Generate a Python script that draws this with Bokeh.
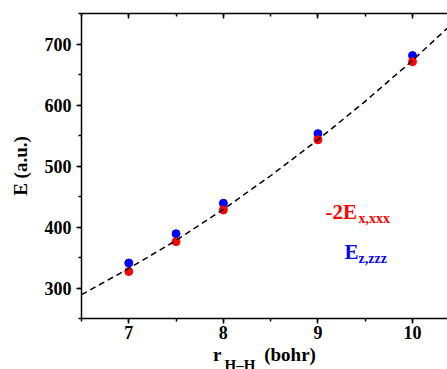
from bokeh.plotting import figure
from bokeh.models import Range1d, LinearAxis, SingleIntervalTicker, Label, Title
from bokeh.embed import file_html
from bokeh.resources import INLINE

# data
r_hh = [7.0, 7.5, 8.0, 9.0, 10.0]
e_xxx = [327, 376, 428, 543, 671]      # -2E_x,xxx (red)
e_zzz = [341, 389, 439, 553, 681]      # E_z,zzz (blue)
fit_x = [6.5, 7.0, 7.5, 8.0, 8.5, 9.0, 9.5, 10.0, 10.5]
fit_y = [289, 332, 378, 429, 484, 543, 606, 673, 745]

FONT = "Liberation Serif"
NB = "\u00a0"

p = figure(width=447, height=369, output_backend="svg", toolbar_location=None,
           x_range=Range1d(6.5, 10.37), y_range=Range1d(250, 750),
           min_border_left=81, min_border_right=0, min_border_top=13, min_border_bottom=51)
p.outline_line_color = None
p.xgrid.visible = False
p.ygrid.visible = False
p.background_fill_color = "white"
p.border_fill_color = "white"

p.xaxis.ticker = SingleIntervalTicker(interval=1, num_minor_ticks=2)
p.yaxis.ticker = SingleIntervalTicker(interval=100, num_minor_ticks=2)

for ax in (p.xaxis[0], p.yaxis[0]):
    ax.axis_line_width = 1.5
    ax.major_tick_line_width = 1.5
    ax.minor_tick_line_width = 1.5
    ax.major_tick_out = 5
    ax.major_tick_in = 0
    ax.minor_tick_out = 3
    ax.minor_tick_in = 0
    ax.major_label_text_font = FONT
    ax.major_label_text_font_style = "bold"
    ax.major_label_text_font_size = "18px"
    ax.major_label_text_color = "black"
    ax.axis_label_text_font = FONT
    ax.axis_label_text_font_style = "bold"
    ax.axis_label_text_font_size = "19px"
    ax.axis_label_text_color = "black"

p.xaxis.major_label_standoff = 2
p.yaxis.major_label_standoff = 5
p.yaxis.axis_label = "E (a.u.)"
p.yaxis.axis_label_standoff = 11
p.xaxis.axis_label = "r" + NB * 9 + "(bohr)"
p.xaxis.axis_label_standoff = 2

top = LinearAxis(ticker=SingleIntervalTicker(interval=1, num_minor_ticks=2),
                 axis_line_width=1.5, major_tick_line_width=1.5, minor_tick_line_width=1.5,
                 major_tick_in=5, major_tick_out=0, minor_tick_in=3, minor_tick_out=0,
                 major_label_text_font_size="0px", major_label_standoff=0)
p.add_layout(top, "above")

# subscript of the x axis title
sub = Title(text="H\u2013H", text_font=FONT, text_font_style="bold", text_font_size="15px",
            text_color="black", align="left", vertical_align="top", offset=143, standoff=-22)
p.add_layout(sub, "below")

p.scatter(r_hh, e_zzz, size=8, color="#0000FF")
p.scatter(r_hh, e_xxx, size=8, color="#FF0000")
p.line(fit_x, fit_y, line_color="black", line_width=1.5, line_dash="6 4")

def lab(x, y, text, size, color):
    p.add_layout(Label(x=x, y=y, text=text, text_font=FONT, text_font_style="bold",
                       text_font_size=size, text_color=color,
                       text_baseline="alphabetic", text_align="left"))

# legend texts
lab(9.08, 424, "-2E", "21px", "#FF0000")
lab(9.43, 414, "x,xxx", "14px", "#FF0000")
lab(9.28, 359, "E", "21px", "#0000FF")
lab(9.43, 349, "z,zzz", "14px", "#0000FF")

open("out.html", "w").write(file_html(p, INLINE))
